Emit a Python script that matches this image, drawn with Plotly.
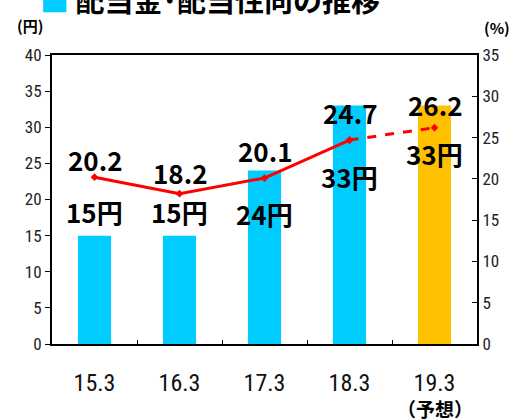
import plotly.graph_objects as go

categories = ["15.3", "16.3", "17.3", "18.3", "19.3"]
dividend_yen = [15, 15, 24, 33, 33]
payout_ratio = [20.2, 18.2, 20.1, 24.7, 26.2]
bar_labels = ["15円", "15円", "24円", "33円", "33円"]
ratio_labels = ["20.2", "18.2", "20.1", "24.7", "26.2"]

# label anchor positions (left-axis units), layout only
bar_label_y = [18.3, 18.3, 18.1, 23.25, 26.4]
ratio_label_y = [25.5, 23.7, 26.85, 32.0, 33.2]

bar_colors = ["#00CCFF", "#00CCFF", "#00CCFF", "#00CCFF", "#FFC000"]
NUM_FONT = "Liberation Sans Narrow, Roboto Condensed, Arial Narrow, sans-serif"
BOLD_FONT = "Noto Sans CJK JP"

fig = go.Figure()
fig.add_trace(go.Bar(x=categories, y=dividend_yen, marker_color=bar_colors,
                     width=0.39, marker_line_width=0, yaxis="y"))
fig.add_trace(go.Scatter(x=categories[:4], y=payout_ratio[:4], yaxis="y2",
                         mode="lines+markers",
                         line=dict(color="#FF0000", width=3),
                         marker=dict(symbol="diamond", size=6, color="#FF0000")))
fig.add_trace(go.Scatter(x=categories[3:], y=payout_ratio[3:], yaxis="y2",
                         mode="lines+markers",
                         line=dict(color="#FF0000", width=3, dash="dash"),
                         marker=dict(symbol="diamond", size=6, color="#FF0000")))

ann = []
for i, (t, y) in enumerate(zip(bar_labels, bar_label_y)):
    ann.append(dict(x=i, y=y, xref="x", yref="y", text=f"<b>{t}</b>", showarrow=False,
                    xanchor="center", yanchor="middle",
                    font=dict(family=BOLD_FONT, size=26, color="black")))
for i, (t, y) in enumerate(zip(ratio_labels, ratio_label_y)):
    ann.append(dict(x=i, y=y, xref="x", yref="y", text=f"<b>{t}</b>", showarrow=False,
                    xanchor="center", yanchor="middle",
                    font=dict(family=BOLD_FONT, size=26, color="black")))

ann.append(dict(x=4, y=0, xref="x", yref="paper", yshift=-64,
                xanchor="center", yanchor="middle",
                text="<b>（予想）</b>", showarrow=False,
                font=dict(family=BOLD_FONT, size=19, color="black")))
ann.append(dict(x=0, y=1, xref="paper", yref="paper", xshift=-22, yshift=30,
                xanchor="center", yanchor="middle",
                text="<b>(円)</b>", showarrow=False,
                font=dict(family=BOLD_FONT, size=15, color="black")))
ann.append(dict(x=1, y=1, xref="paper", yref="paper", xshift=20, yshift=28,
                xanchor="center", yanchor="middle",
                text="<b>(%)</b>", showarrow=False,
                font=dict(family=BOLD_FONT, size=15, color="black")))
ann.append(dict(x=0, y=1, xref="paper", yref="paper", xshift=-14, yshift=56,
                xanchor="left", yanchor="middle",
                text="<span style='color:#00CCFF'>■</span> <b>配当金･配当性向の推移</b>",
                showarrow=False,
                font=dict(family=BOLD_FONT, size=29, color="black")))

fig.update_layout(
    width=517, height=419,
    margin=dict(l=52, r=40, t=55, b=75),
    paper_bgcolor="white", plot_bgcolor="white",
    showlegend=False,
    annotations=ann,
    xaxis=dict(type="category", showline=True, linecolor="black", linewidth=2, mirror=True,
               ticks="inside", tickson="boundaries", ticklen=4, tickcolor="black",
               tickfont=dict(family=NUM_FONT, size=24, color="#111"),
               ticklabelstandoff=16, showgrid=False, range=[-0.5, 4.5]),
    yaxis=dict(range=[0, 40], dtick=5, showline=True, linecolor="black", linewidth=2,
               ticks="outside", ticklen=5, tickcolor="black", showgrid=False,
               zeroline=False,
               tickfont=dict(family=NUM_FONT, size=17, color="#222")),
    yaxis2=dict(range=[0, 35], dtick=5, overlaying="y", side="right",
                showline=True, linecolor="black", linewidth=2,
                ticks="inside", ticklen=5, tickcolor="black", showgrid=False,
                zeroline=False,
                tickfont=dict(family=NUM_FONT, size=17, color="#222")),
)

fig.write_html("out.html", config={"displayModeBar": False},
               post_script="document.body.style.margin='0';document.body.style.overflow='hidden';")
